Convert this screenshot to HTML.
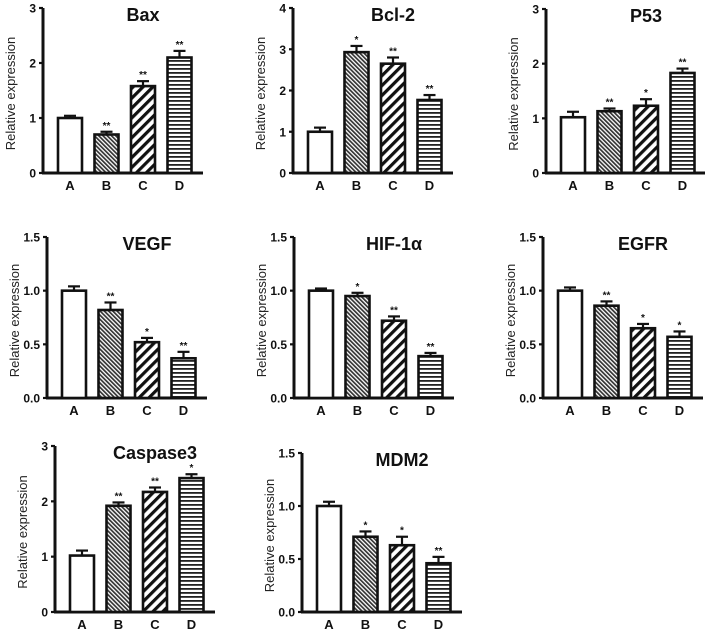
<!DOCTYPE html>
<html><head><meta charset="utf-8"><style>
html,body{margin:0;padding:0;background:#fff;}
svg{display:block;font-family:"Liberation Sans",Arial,sans-serif;}
</style></head><body>
<svg id="fig" width="705" height="631" viewBox="0 0 705 631">
<defs>
<pattern id="pB" patternUnits="userSpaceOnUse" width="3" height="3" patternTransform="rotate(-45)"><rect width="3" height="3" fill="#fff"/><rect width="1.7" height="3" fill="#333"/></pattern>
<pattern id="pC" patternUnits="userSpaceOnUse" width="7" height="7" patternTransform="rotate(45)"><rect width="7" height="7" fill="#fff"/><rect width="3.2" height="7" fill="#111"/></pattern>
<pattern id="pD" patternUnits="userSpaceOnUse" width="4" height="4"><rect width="4" height="4" fill="#fff"/><rect width="4" height="1.8" fill="#222"/></pattern>
</defs>
</svg>
<script>
const categories = ["A","B","C","D"];
const titles = ["Bax","Bcl-2","P53","VEGF","HIF-1α","EGFR","Caspase3","MDM2"];
const baxValues = [1.0,0.70,1.58,2.10];
const baxErrors = [0.04,0.05,0.09,0.12];
const baxStars = ["","**","**","**"];
const bcl2Values = [1.0,2.93,2.65,1.77];
const bcl2Errors = [0.10,0.15,0.15,0.12];
const bcl2Stars = ["","*","**","**"];
const p53Values = [1.02,1.13,1.23,1.83];
const p53Errors = [0.10,0.05,0.12,0.08];
const p53Stars = ["","**","*","**"];
const vegfValues = [1.0,0.82,0.52,0.37];
const vegfErrors = [0.04,0.07,0.04,0.06];
const vegfStars = ["","**","*","**"];
const hifValues = [1.0,0.95,0.72,0.39];
const hifErrors = [0.02,0.03,0.04,0.03];
const hifStars = ["","*","**","**"];
const egfrValues = [1.0,0.86,0.65,0.57];
const egfrErrors = [0.03,0.04,0.04,0.05];
const egfrStars = ["","**","*","*"];
const casp3Values = [1.02,1.92,2.17,2.42];
const casp3Errors = [0.09,0.06,0.08,0.07];
const casp3Stars = ["","**","**","*"];
const mdm2Values = [1.0,0.71,0.63,0.46];
const mdm2Errors = [0.04,0.05,0.08,0.06];
const mdm2Stars = ["","*","*","**"];
const ticks3 = ["0","1","2","3"];
const ticks4 = ["0","1","2","3","4"];
const ticks15 = ["0.0","0.5","1.0","1.5"];

const panels = [
 {t:titles[0],v:baxValues,e:baxErrors,s:baxStars,ticks:ticks3,max:3,x0:43,top:8,bot:173},
 {t:titles[1],v:bcl2Values,e:bcl2Errors,s:bcl2Stars,ticks:ticks4,max:4,x0:293,top:8,bot:173},
 {t:titles[2],v:p53Values,e:p53Errors,s:p53Stars,ticks:ticks3,max:3,x0:546,top:9,bot:173},
 {t:titles[3],v:vegfValues,e:vegfErrors,s:vegfStars,ticks:ticks15,max:1.5,x0:47,top:237,bot:398},
 {t:titles[4],v:hifValues,e:hifErrors,s:hifStars,ticks:ticks15,max:1.5,x0:294,top:237,bot:398},
 {t:titles[5],v:egfrValues,e:egfrErrors,s:egfrStars,ticks:ticks15,max:1.5,x0:543,top:237,bot:398},
 {t:titles[6],v:casp3Values,e:casp3Errors,s:casp3Stars,ticks:ticks3,max:3,x0:55,top:446,bot:612},
 {t:titles[7],v:mdm2Values,e:mdm2Errors,s:mdm2Stars,ticks:ticks15,max:1.5,x0:302,top:453,bot:612}
];
const fills = ["#fff","url(#pB)","url(#pC)","url(#pD)"];
const NS="http://www.w3.org/2000/svg";
const svg=document.getElementById('fig');
function mk(tag,attrs,parent){const el=document.createElementNS(NS,tag);for(const k in attrs)el.setAttribute(k,attrs[k]);(parent||svg).appendChild(el);return el;}
panels.forEach((p,pi)=>{
  const g=mk('g',{});
  
  
  const y=v=>p.bot-(v/p.max)*(p.bot-p.top);
  const x=i=>p.x0+15+i*36.5;
  const bw=24;
  const ya=mk('line',{x1:p.x0,y1:p.top,x2:p.x0,y2:p.bot+1,stroke:'#111','stroke-width':3},g);
  
  
  const xa=mk('line',{x1:p.x0-1,y1:p.bot,x2:p.x0+160,y2:p.bot,stroke:'#111','stroke-width':3},g);
  
  
  p.ticks.forEach((tl,ti)=>{
    const val=ti*p.max/(p.ticks.length-1);
    const ty=y(val);
    mk('line',{x1:p.x0-4,y1:ty,x2:p.x0,y2:ty,stroke:'#111','stroke-width':2.2},g);
    const t=mk('text',{x:p.x0-7,y:ty+4.5,'text-anchor':'end','font-size':12,'font-weight':'bold',fill:'#111'},g);
    t.textContent=tl;
    
    
  });
  const yl=mk('text',{x:0,y:0,transform:`translate(${p.x0-28},${(p.top+p.bot)/2+3}) rotate(-90)`,'text-anchor':'middle','font-size':13,fill:'#222'},g);
  yl.textContent='Relative expression';
  
  
  const tt=mk('text',{x:p.x0+100,y:p.top+13,'text-anchor':'middle','font-size':18,'font-weight':'bold',fill:'#111'},g);
  tt.textContent=p.t;
  
  
  categories.forEach((c,i)=>{
    const bx=x(i), by=y(p.v[i]);
    const r=mk('rect',{x:bx,y:by,width:bw,height:p.bot-by,fill:fills[i],stroke:'#111','stroke-width':2.6},g);
    
    
    const ey=y(p.v[i]+p.e[i]);
    mk('line',{x1:bx+bw/2,y1:by,x2:bx+bw/2,y2:ey,stroke:'#111','stroke-width':2.2},g);
    const eb=mk('line',{x1:bx+bw/2-6,y1:ey,x2:bx+bw/2+6,y2:ey,stroke:'#111','stroke-width':2.2},g);
    
    
    if(p.s[i]){
      const st=mk('text',{x:bx+bw/2,y:ey-3,'text-anchor':'middle','font-size':10,'font-weight':'bold',fill:'#111'},g);
      st.textContent=p.s[i];
      
      
    }
    const xl=mk('text',{x:bx+bw/2,y:p.bot+17,'text-anchor':'middle','font-size':13,'font-weight':'bold',fill:'#111'},g);
    xl.textContent=c;
    
    
  });
});
</script>
</body></html>
